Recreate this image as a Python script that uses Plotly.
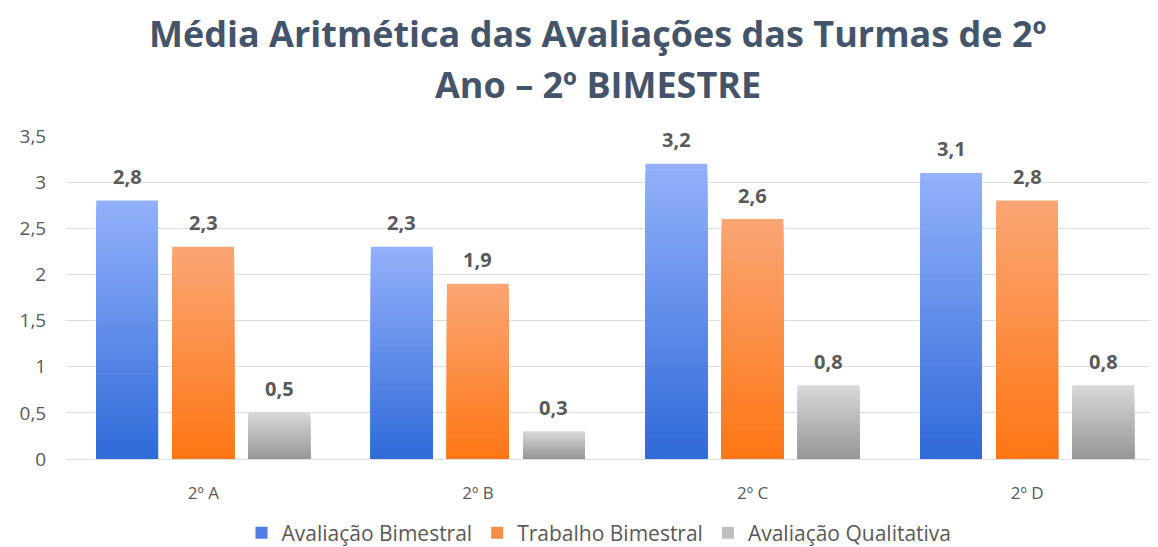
import plotly.graph_objects as go

categories = ["2º A", "2º B", "2º C", "2º D"]
series_names = ["Avaliação Bimestral", "Trabalho Bimestral", "Avaliação Qualitativa"]
avaliacao_bimestral = [2.8, 2.3, 3.2, 3.1]
trabalho_bimestral = [2.3, 1.9, 2.6, 2.8]
avaliacao_qualitativa = [0.5, 0.3, 0.8, 0.8]
y_ticks = [0, 0.5, 1, 1.5, 2, 2.5, 3, 3.5]
title_lines = ["Média Aritmética das Avaliações das Turmas de 2º", "Ano – 2º BIMESTRE"]

series_values = [avaliacao_bimestral, trabalho_bimestral, avaliacao_qualitativa]
grad_top = [(147, 177, 251), (251, 166, 118), (217, 217, 217)]
grad_bot = [(47, 106, 216), (253, 118, 19), (150, 150, 150)]
legend_colors = ["#4f7fe3", "#fb8c45", "#bfbfbf"]

BAR_W = 0.225
OFFSETS = [-0.39, -0.113, 0.164]
N = 40
FONT = "Open Sans"
TXT = "#595959"
# page body has an 8px margin, so figure coordinates = reference - 8
W, H = 1150, 539
L, T, B = 58, 128, 88
PW, PH = W - L, H - T - B

fig = go.Figure()

for s, vals in enumerate(series_values):
    for k in range(N):
        frac = 1 - k / N
        f = frac - 0.5 / N
        c = tuple(int(round(grad_bot[s][j] + (grad_top[s][j] - grad_bot[s][j]) * f)) for j in range(3))
        fig.add_trace(go.Bar(
            x=categories, y=[v * frac for v in vals], base=0,
            width=BAR_W, offset=OFFSETS[s],
            marker=dict(color="rgb(%d,%d,%d)" % c, line=dict(width=0)),
            showlegend=False, hoverinfo="skip",
        ))
    fig.add_trace(go.Bar(
        x=[None], y=[None], name=series_names[s],
        marker=dict(color=legend_colors[s], line=dict(width=0)),
        showlegend=True,
    ))

annotations = []
for s, vals in enumerate(series_values):
    for i, v in enumerate(vals):
        annotations.append(dict(
            x=i + OFFSETS[s] + BAR_W / 2, y=v, xref="x", yref="y",
            text=("%.1f" % v).replace(".", ","), showarrow=False,
            yshift=24, font=dict(family=FONT, size=20, color=TXT, weight="bold"),
        ))

title_y = [33 - 8, 85 - 8]
for line, ty in zip(title_lines, title_y):
    annotations.append(dict(
        x=(598 - 8 - L) / PW, y=(H - B - ty) / PH, xref="paper", yref="paper",
        xanchor="center", yanchor="middle", showarrow=False, text=line,
        font=dict(family=FONT, size=36, color="#44546A", weight="bold"),
    ))

fig.update_layout(
    width=W, height=H,
    barmode="overlay",
    separators=",.",
    paper_bgcolor="white", plot_bgcolor="white",
    margin=dict(l=L, r=0, t=T, b=B, autoexpand=False),
    font=dict(family=FONT, color=TXT),
    legend=dict(
        orientation="h", x=(599 - 8) / W, xanchor="center", xref="container",
        y=14 / H, yanchor="middle", yref="container",
        font=dict(family=FONT, size=21, color=TXT),
        itemwidth=30, tracegroupgap=0,
    ),
    annotations=annotations,
    xaxis=dict(
        type="category", range=[-0.5, 3.476],
        showgrid=False, zeroline=False, showline=False,
        ticks="outside", ticklen=19, tickcolor="rgba(0,0,0,0)",
        tickfont=dict(family=FONT, size=17, color=TXT),
    ),
    yaxis=dict(
        range=[0, 3.5], tickvals=y_ticks,
        showgrid=True, gridcolor="#dadde2", gridwidth=1,
        zeroline=True, zerolinecolor="#dadde2", zerolinewidth=1,
        showline=False,
        ticks="outside", ticklen=15, tickcolor="rgba(0,0,0,0)",
        tickfont=dict(family=FONT, size=19, color=TXT),
    ),
)

fig.write_html("out.html")
